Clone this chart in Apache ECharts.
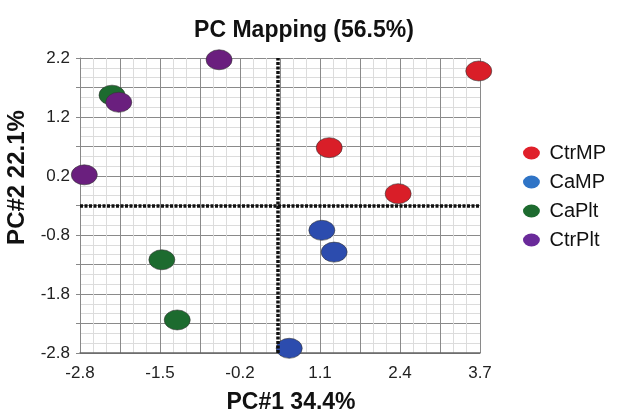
<!DOCTYPE html>
<html>
<head>
<meta charset="utf-8">
<script src="https://cdn.jsdelivr.net/npm/echarts@6/dist/echarts.min.js"></script>
<style>html,body{margin:0;padding:0;background:#fff}#c{width:617px;height:410px}</style>
</head>
<body>
<div id="c"></div>
<script>
const categories = ['CtrMP', 'CaMP', 'CaPlt', 'CtrPlt'];
const ctrMP = [[3.68, 1.98], [1.25, 0.68], [2.37, -0.10]];
const caMP = [[1.13, -0.72], [1.33, -1.09], [0.60, -2.72]];
const caPlt = [[-2.28, 1.57], [-1.47, -1.22], [-1.22, -2.24]];
const ctrPlt = [[-0.54, 2.17], [-2.17, 1.45], [-2.73, 0.22]];
const xAxisRange = [-2.8, 3.7, 0.65];
const yAxisRange = [-2.8, 2.2, 0.5];
const originLines = { x: 0.42, y: -0.3 };

const colors = ['#d91e28', '#2c4cae', '#1d6b2f', '#6a1f7e'];
const legendColors = ['#e0202a', '#2f74c6', '#1d6b2f', '#6a2a9a'];
const seriesData = [ctrMP, caMP, caPlt, ctrPlt];
const ellipse = 'path://M0 10 A13 10 0 1 1 26 10 A13 10 0 1 1 0 10 Z';
const FONT = 'Liberation Sans, Arial, sans-serif';

const chart = echarts.init(document.getElementById('c'), null, { renderer: 'canvas' });
const series = categories.map((name, i) => ({
  name, type: 'scatter', data: seriesData[i],
  symbol: ellipse, symbolSize: [26, 20],
  itemStyle: { color: colors[i], borderColor: '#333', borderWidth: 0.6, opacity: 1 },
  z: 3 + i
}));
series[0].markLine = {
  silent: true, symbol: 'none', label: { show: false },
  lineStyle: { color: '#111', width: 3.5, type: [3, 1.5] },
  data: [{ xAxis: originLines.x }, { yAxis: originLines.y }]
};

chart.setOption({
  animation: false,
  title: {
    text: 'PC Mapping (56.5%)', left: 299, top: 14, textAlign: 'center',
    textStyle: { fontFamily: FONT, fontSize: 23, fontWeight: 'bold', color: '#111' }
  },
  legend: {
    orient: 'vertical', left: 518, top: 138, itemGap: 9,
    itemWidth: 24, itemHeight: 13, icon: ellipse,
    textStyle: { fontFamily: FONT, fontSize: 20, color: '#111', padding: [0, 0, 0, 1] },
    data: categories.map((n, i) => ({ name: n, itemStyle: { color: legendColors[i], borderWidth: 0 } }))
  },
  grid: { left: 80, right: 137, top: 58, bottom: 57, containLabel: false, outerBoundsMode: 'none' },
  xAxis: {
    type: 'value', min: xAxisRange[0], max: xAxisRange[1], interval: xAxisRange[2],
    name: 'PC#1 34.4%', nameLocation: 'middle', nameGap: 38,
    nameTextStyle: { fontFamily: FONT, fontSize: 23, fontWeight: 'bold', color: '#111', padding: [0, 0, 0, 22] },
    axisLine: { show: true, onZero: false, lineStyle: { color: '#666', width: 1.5 } },
    axisTick: { show: false },
    axisLabel: {
      fontFamily: FONT, fontSize: 17, color: '#222', margin: 12,
      formatter: (v, idx) => (idx % 2 === 0 ? v.toFixed(1) : '')
    },
    splitLine: { show: true, lineStyle: { color: '#8a8a8a', width: 1 } },
    minorTick: { show: false, splitNumber: 3 },
    minorSplitLine: { show: true, lineStyle: { color: '#dcdcdc', width: 1 } }
  },
  yAxis: {
    type: 'value', min: yAxisRange[0], max: yAxisRange[1], interval: yAxisRange[2],
    name: 'PC#2 22.1%', nameLocation: 'middle', nameGap: 49, nameRotate: 90,
    nameTextStyle: { fontFamily: FONT, fontSize: 24, fontWeight: 'bold', color: '#111', padding: [0, 0, 0, 56] },
    axisLine: { show: true, onZero: false, lineStyle: { color: '#888', width: 1 } },
    axisTick: { show: true, length: 4, lineStyle: { color: '#888' } },
    axisLabel: {
      fontFamily: FONT, fontSize: 17, color: '#222', margin: 10,
      formatter: (v, idx) => (idx % 2 === 0 ? v.toFixed(1) : '')
    },
    splitLine: { show: true, lineStyle: { color: '#8a8a8a', width: 1 } },
    minorTick: { show: false, splitNumber: 3 },
    minorSplitLine: { show: true, lineStyle: { color: '#dcdcdc', width: 1 } }
  },
  series
});
</script>
</body>
</html>
